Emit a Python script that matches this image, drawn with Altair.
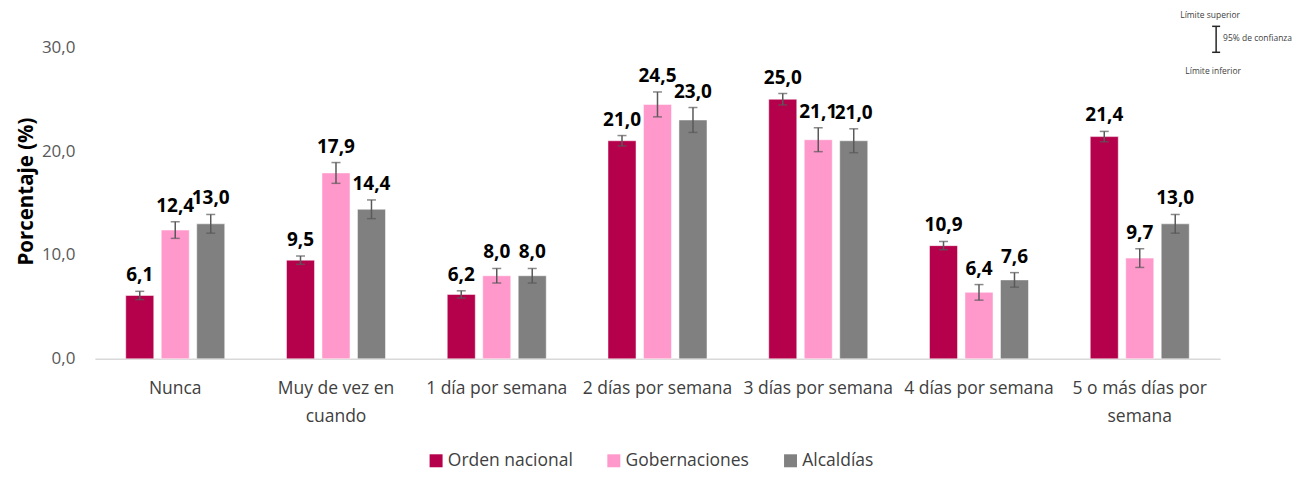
import altair as alt
import pandas as pd

categories = ["Nunca", "Muy de vez en cuando", "1 día por semana", "2 días por semana",
              "3 días por semana", "4 días por semana", "5 o más días por semana"]
series = ["Orden nacional", "Gobernaciones", "Alcaldías"]
orden = [6.1, 9.5, 6.2, 21.0, 25.0, 10.9, 21.4]
gober = [12.4, 17.9, 8.0, 24.5, 21.1, 6.4, 9.7]
alcal = [13.0, 14.4, 8.0, 23.0, 21.0, 7.6, 13.0]
orden_err = [0.4, 0.4, 0.35, 0.5, 0.55, 0.4, 0.5]
gober_err = [0.8, 1.0, 0.7, 1.2, 1.15, 0.75, 0.9]
alcal_err = [0.9, 0.9, 0.7, 1.2, 1.15, 0.7, 0.9]
colors = ["#B5004B", "#FF99CC", "#808080"]

rows = []
for s, vals, errs in zip(series, [orden, gober, alcal], [orden_err, gober_err, alcal_err]):
    for c, v, e in zip(categories, vals, errs):
        rows.append({"cat": c, "serie": s, "v": v, "lo": v - e, "hi": v + e,
                     "label": f"{v:.1f}".replace(".", ",")})
df = pd.DataFrame(rows)

FONT = "Open Sans"

x_enc = alt.X("cat:N", sort=categories, title=None,
              scale=alt.Scale(paddingInner=0, paddingOuter=0),
              axis=alt.Axis(labelAngle=0, ticks=False, domainColor="#D9D9D9", domainWidth=1.5,
                            labelFont=FONT, labelFontSize=17.5, labelColor="#404040",
                            labelPadding=21, labelLineHeight=28, labelLimit=220,
                            labelExpr="datum.value == 'Muy de vez en cuando' ? ['Muy de vez en', 'cuando'] : datum.value == '5 o más días por semana' ? ['5 o más días por', 'semana'] : datum.value"))
xo_enc = alt.XOffset("serie:N", sort=series,
                     scale=alt.Scale(paddingInner=0.21, paddingOuter=0.87))
y_scale = alt.Scale(domain=[0, 30])

base = alt.Chart(df)

bars = base.mark_bar(stroke="white", strokeWidth=0.5).encode(
    x=x_enc, xOffset=xo_enc,
    y=alt.Y("v:Q", scale=y_scale, title="Porcentaje (%)",
            axis=alt.Axis(values=[0, 10, 20, 30], grid=False, domain=False, ticks=False,
                          labelFont=FONT, labelFontSize=17, labelColor="#595959", labelPadding=20,
                          labelExpr="replace(format(datum.value, '.1f'), '.', ',')",
                          titleFont=FONT, titleFontSize=20.5, titleFontWeight="bold",
                          titleColor="#000000", titlePadding=5, titleY=144)),
    color=alt.Color("serie:N", sort=series,
                    scale=alt.Scale(domain=series, range=colors),
                    legend=alt.Legend(title=None, orient="none", direction="horizontal",
                                      legendX=333, legendY=405, symbolType="square",
                                      symbolSize=169, symbolStrokeWidth=0,
                                      labelFont=FONT, labelFontSize=17.5, labelColor="#404040",
                                      columnPadding=32, labelOffset=3)),
)

err = base.mark_rule(color="#595959", strokeWidth=1.5).encode(
    x=x_enc, xOffset=xo_enc, y=alt.Y("lo:Q", scale=y_scale), y2="hi:Q")
cap_hi = base.mark_tick(color="#595959", thickness=1.5, size=9).encode(
    x=x_enc, xOffset=xo_enc, y=alt.Y("hi:Q", scale=y_scale))
cap_lo = base.mark_tick(color="#595959", thickness=1.5, size=9).encode(
    x=x_enc, xOffset=xo_enc, y=alt.Y("lo:Q", scale=y_scale))

labels = base.mark_text(font=FONT, fontSize=19, fontWeight="bold", color="#000000",
                        baseline="alphabetic", dy=-10).encode(
    x=x_enc, xOffset=xo_enc, y=alt.Y("hi:Q", scale=y_scale), text="label:N")

# confidence-interval key (top right)
key_sup = alt.Chart(pd.DataFrame({"t": ["Límite superior"]})).mark_text(
    font=FONT, fontSize=8.5, color="#404040", align="center", baseline="middle").encode(
    x=alt.value(1117), y=alt.value(-32), text="t:N")
key_inf = alt.Chart(pd.DataFrame({"t": ["Límite inferior"]})).mark_text(
    font=FONT, fontSize=8.5, color="#404040", align="center", baseline="middle").encode(
    x=alt.value(1120), y=alt.value(24), text="t:N")
key_mid = alt.Chart(pd.DataFrame({"t": ["95% de confianza"]})).mark_text(
    font=FONT, fontSize=8.5, color="#404040", align="left", baseline="middle").encode(
    x=alt.value(1130), y=alt.value(-9), text="t:N")
key_bar = alt.Chart(pd.DataFrame({"t": ["bar"]})).mark_rule(color="#262626", strokeWidth=1.5).encode(
    x=alt.value(1123), y=alt.value(-21), y2=alt.value(5))
key_c1 = alt.Chart(pd.DataFrame({"t": ["c1"]})).mark_rule(color="#262626", strokeWidth=1.5).encode(
    x=alt.value(1119), x2=alt.value(1127), y=alt.value(-21))
key_c2 = alt.Chart(pd.DataFrame({"t": ["c2"]})).mark_rule(color="#262626", strokeWidth=1.5).encode(
    x=alt.value(1119), x2=alt.value(1127), y=alt.value(5))

chart = alt.layer(bars, err, cap_hi, cap_lo, labels,
                  key_sup, key_inf, key_mid, key_bar, key_c1, key_c2).properties(
    width=1127, height=312,
    autosize=alt.AutoSizeParams(type="none"),
    padding={"left": 87, "top": 39, "right": 80, "bottom": 111},
    background="white",
).configure_view(stroke=None)

chart.save("out.html", embed_options={"renderer": "svg", "actions": False})
